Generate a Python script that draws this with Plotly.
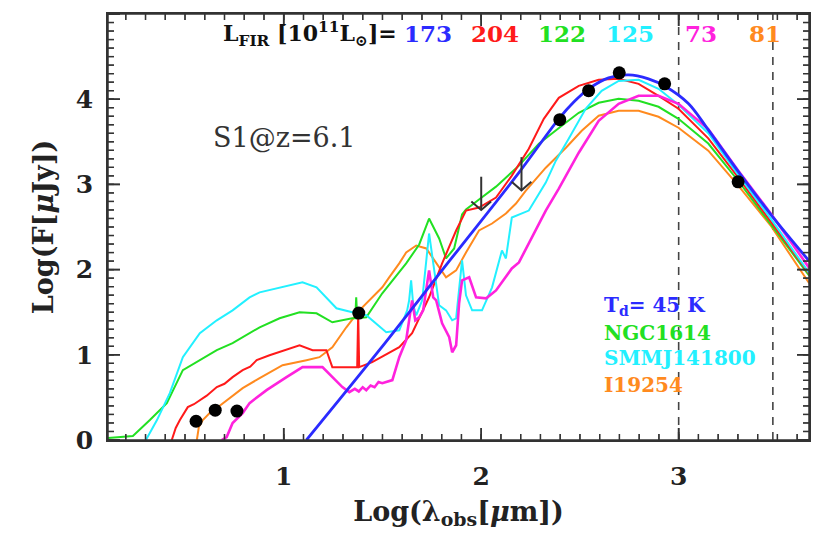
import numpy as np
import plotly.graph_objects as go

# ---------------- data (log lambda_obs [um], log F [uJy]) ----------------
phot_x = [0.556, 0.653, 0.763, 1.380, 2.398, 2.544, 2.699, 2.929, 3.301]
phot_y = [0.22, 0.35, 0.34, 1.49, 3.76, 4.10, 4.31, 4.18, 3.03]

ul_x = [2.000, 2.204]          # upper limits
ul_y = [3.09, 3.32]

vlines_x = [3.0, 3.477]        # dashed reference wavelengths

blue_x = [1.115, 1.484, 1.837, 2.191, 2.393, 2.470, 2.544, 2.645, 2.746, 2.847,
          2.933, 3.049, 3.150, 3.302, 3.469, 3.661]
blue_y = [0.0, 1.054, 2.096, 3.138, 3.770, 3.970, 4.122, 4.251, 4.286, 4.239,
          4.150, 3.950, 3.640, 3.150, 2.640, 2.100]

red_x = [0.433, 0.453, 0.474, 0.514, 0.545, 0.575, 0.610, 0.661, 0.700, 0.741,
         0.792, 0.830, 0.863, 0.928, 1.004, 1.080, 1.146, 1.216, 1.246, 1.362,
         1.372, 1.377, 1.382, 1.448, 1.534, 1.585, 1.650, 1.736, 1.802, 1.873,
         1.923, 1.989, 2.075, 2.155, 2.241, 2.317, 2.393, 2.494, 2.595, 2.696,
         2.797, 2.898, 2.999, 3.150, 3.302, 3.469, 3.661]
red_y = [0.0, 0.141, 0.234, 0.386, 0.420, 0.468, 0.520, 0.621, 0.660, 0.738,
         0.820, 0.860, 0.937, 0.995, 1.054, 1.112, 1.054, 1.054, 0.855, 0.855,
         0.855, 1.487, 0.855, 0.913, 1.019, 1.089, 1.253, 1.675, 2.073, 2.459,
         2.693, 2.728, 2.845, 3.103, 3.419, 3.770, 4.016, 4.157, 4.227, 4.239,
         4.180, 4.040, 3.888, 3.540, 3.080, 2.560, 1.950]

green_x = [0.110, 0.171, 0.236, 0.322, 0.408, 0.489, 0.575, 0.661, 0.741, 0.827,
           0.878, 0.979, 1.080, 1.166, 1.246, 1.347, 1.362, 1.367, 1.372, 1.418,
           1.499, 1.620, 1.686, 1.736, 1.787, 1.822, 1.863, 1.903, 1.923, 1.989,
           2.075, 2.191, 2.292, 2.408, 2.494, 2.595, 2.696, 2.797, 2.898, 2.999,
           3.150, 3.302, 3.469, 3.661]
green_y = [0.023, 0.035, 0.047, 0.234, 0.433, 0.820, 0.937, 1.054, 1.136, 1.253,
           1.323, 1.429, 1.499, 1.487, 1.382, 1.429, 1.429, 1.675, 1.429, 1.441,
           1.722, 2.073, 2.295, 2.599, 2.365, 2.131, 2.248, 2.646, 2.705, 2.822,
           2.974, 3.220, 3.478, 3.689, 3.841, 3.958, 4.005, 3.981, 3.911, 3.770,
           3.480, 3.040, 2.530, 1.930]

cyan_x = [0.302, 0.358, 0.423, 0.489, 0.575, 0.661, 0.741, 0.827, 0.878, 0.994,
          1.095, 1.166, 1.267, 1.347, 1.418, 1.519, 1.585, 1.625, 1.635, 1.645,
          1.656, 1.671, 1.701, 1.736, 1.762, 1.787, 1.822, 1.853, 1.873, 1.903,
          1.923, 1.954, 2.004, 2.055, 2.105, 2.125, 2.155, 2.241, 2.327, 2.378,
          2.443, 2.529, 2.610, 2.696, 2.797, 2.898, 2.999, 3.150, 3.302, 3.469,
          3.661]
cyan_y = [0.0, 0.234, 0.550, 0.972, 1.253, 1.405, 1.522, 1.674, 1.733, 1.792,
          1.850, 1.792, 1.546, 1.499, 1.464, 1.265, 1.288, 1.522, 1.639, 1.874,
          1.581, 1.464, 1.639, 2.424, 1.991, 1.581, 1.522, 1.405, 1.428, 2.108,
          1.698, 1.522, 1.522, 1.792, 2.225, 2.131, 2.611, 2.693, 3.021, 3.279,
          3.536, 3.888, 4.098, 4.215, 4.227, 4.122, 3.934, 3.600, 3.110, 2.590,
          1.960]

magenta_x = [0.686, 0.711, 0.741, 0.792, 0.827, 0.878, 0.913, 1.014, 1.095, 1.196,
             1.246, 1.297, 1.332, 1.360, 1.380, 1.400, 1.418, 1.440, 1.460, 1.480,
             1.499, 1.550, 1.585, 1.620, 1.650, 1.666, 1.686, 1.706, 1.736, 1.757,
             1.772, 1.802, 1.838, 1.853, 1.873, 1.888, 1.903, 1.939, 1.974, 2.025,
             2.075, 2.155, 2.191, 2.327, 2.393, 2.494, 2.595, 2.696, 2.797, 2.898,
             2.999, 3.150, 3.302, 3.469, 3.661]
magenta_y = [0.0, 0.035, 0.199, 0.316, 0.433, 0.527, 0.585, 0.738, 0.855, 0.855,
             0.738, 0.621, 0.562, 0.600, 0.570, 0.620, 0.585, 0.640, 0.620, 0.680,
             0.667, 0.703, 0.972, 1.171, 1.639, 1.405, 1.440, 1.522, 1.991, 1.674,
             1.639, 1.370, 1.206, 1.030, 1.112, 1.604, 1.874, 1.909, 1.674, 1.663,
             1.756, 2.014, 2.084, 2.693, 2.951, 3.372, 3.747, 3.946, 4.040, 4.040,
             3.946, 3.650, 3.160, 2.650, 2.020]

orange_x = [0.560, 0.570, 0.590, 0.625, 0.661, 0.711, 0.792, 0.878, 0.994, 1.115,
            1.181, 1.246, 1.317, 1.383, 1.448, 1.499, 1.534, 1.585, 1.620, 1.671,
            1.722, 1.772, 1.822, 1.873, 1.923, 1.989, 2.055, 2.125, 2.176, 2.226,
            2.327, 2.429, 2.509, 2.595, 2.696, 2.797, 2.898, 2.999, 3.150, 3.302,
            3.469, 3.661]
orange_y = [0.0, 0.152, 0.234, 0.316, 0.375, 0.468, 0.609, 0.726, 0.878, 0.937,
            0.972, 1.089, 1.323, 1.522, 1.674, 1.792, 1.909, 2.073, 2.201, 2.283,
            2.248, 2.084, 1.909, 1.991, 2.201, 2.459, 2.541, 2.658, 2.775, 2.927,
            3.196, 3.431, 3.630, 3.806, 3.864, 3.864, 3.794, 3.665, 3.396, 2.986,
            2.506, 1.840]

lfir_values = ["173", "204", "122", "125", "73", "81"]
lfir_colors = ["#2b2bff", "#ff1a1a", "#22e022", "#22f0ff", "#ff22dd", "#ff8a1e"]
lfir_x = [1.731, 2.070, 2.408, 2.756, 3.115, 3.438]

legend_labels = ["T<sub>d</sub>= 45 K", "NGC1614", "SMMJ141800", "I19254"]
legend_colors = ["#2b2bff", "#22e022", "#22f0ff", "#ff8a1e"]
legend_y = [1.57, 1.26, 0.96, 0.65]

# ---------------- axes setup ----------------
X_RANGE = [0.11, 3.66]
Y_RANGE = [0.0, 5.0]
W, H = 823, 535
M = dict(l=108, r=12, t=14, b=95)
FONT = "DejaVu Serif"
AX = "#333333"

px_x = (X_RANGE[1] - X_RANGE[0]) / (W - M["l"] - M["r"])
px_y = (Y_RANGE[1] - Y_RANGE[0]) / (H - M["t"] - M["b"])

fig = go.Figure()

for xv in vlines_x:
    fig.add_trace(go.Scatter(x=[xv, xv], y=Y_RANGE, mode="lines",
                             line=dict(color="#444444", width=1.6, dash="8px,7px"),
                             hoverinfo="skip", showlegend=False))

curves = [
    (orange_x, orange_y, "#ff8a1e", 2.0, "linear"),
    (green_x, green_y, "#22e022", 2.0, "linear"),
    (red_x, red_y, "#ff1a1a", 2.0, "linear"),
    (cyan_x, cyan_y, "#22f0ff", 2.0, "linear"),
    (magenta_x, magenta_y, "#ff22dd", 2.6, "linear"),
    (blue_x, blue_y, "#2b2bff", 2.8, "spline"),
]
for cx, cy, col, w, shp in curves:
    fig.add_trace(go.Scatter(x=cx, y=cy, mode="lines",
                             line=dict(color=col, width=w, shape=shp),
                             showlegend=False))

fig.add_trace(go.Scatter(x=phot_x, y=phot_y, mode="markers",
                         marker=dict(color="black", size=13),
                         showlegend=False))

ax_, ay_ = [], []
for xv, yv in zip(ul_x, ul_y):
    tip = yv - 0.39
    ax_ += [xv, xv, None, xv - 0.05, xv, xv + 0.05, None]
    ay_ += [yv, tip, None, tip + 0.1, tip, tip + 0.1, None]
fig.add_trace(go.Scatter(x=ax_, y=ay_, mode="lines",
                         line=dict(color="#333333", width=2),
                         showlegend=False))

# ---------------- inward tick marks on all four sides (axis furniture) ----------------
shapes = []

def add_ticks(step, len_px, width):
    xs, ys = [], []
    ly = len_px * px_y
    lx = len_px * px_x
    for v in np.arange(np.ceil(X_RANGE[0] / step) * step, X_RANGE[1], step):
        v = float(v)
        xs += [v, v, None, v, v, None]
        ys += [Y_RANGE[0], Y_RANGE[0] + ly, None, Y_RANGE[1], Y_RANGE[1] - ly, None]
        for y0, y1 in ((Y_RANGE[0], Y_RANGE[0] + ly), (Y_RANGE[1], Y_RANGE[1] - ly)):
            shapes.append(dict(type="line", xref="x", yref="y", x0=v, x1=v, y0=y0, y1=y1,
                               line=dict(color=AX, width=width), layer="above"))
    for v in np.arange(np.ceil(Y_RANGE[0] / step) * step, Y_RANGE[1] + 1e-9, step):
        v = float(v)
        xs += [X_RANGE[0], X_RANGE[0] + lx, None, X_RANGE[1], X_RANGE[1] - lx, None]
        ys += [v, v, None, v, v, None]
        for x0, x1 in ((X_RANGE[0], X_RANGE[0] + lx), (X_RANGE[1], X_RANGE[1] - lx)):
            shapes.append(dict(type="line", xref="x", yref="y", x0=x0, x1=x1, y0=v, y1=v,
                               line=dict(color=AX, width=width), layer="above"))
    fig.add_trace(go.Scatter(x=xs, y=ys, mode="lines", line=dict(color=AX, width=width),
                             hoverinfo="skip", showlegend=False))

add_ticks(0.1, 6, 1.3)
add_ticks(1.0, 12, 1.6)

# plot frame
shapes.append(dict(type="rect", xref="paper", yref="paper", x0=0, x1=1, y0=0, y1=1,
                   line=dict(color=AX, width=1.5), fillcolor="rgba(0,0,0,0)", layer="above"))

annos = []
annos.append(dict(x=1.585, y=4.77, xref="x", yref="y", xanchor="right", yanchor="middle",
                  text="<b>L<sub>FIR</sub> [10<sup>11</sup>L<sub>⊙</sub>]=</b>", showarrow=False,
                  font=dict(family=FONT, size=22, color="#111111")))
for v, c, xv in zip(lfir_values, lfir_colors, lfir_x):
    annos.append(dict(x=xv, y=4.77, xref="x", yref="y", xanchor="center", yanchor="middle",
                      text="<b>" + v + "</b>", showarrow=False,
                      font=dict(family=FONT, size=23, color=c)))
annos.append(dict(x=1.0, y=3.55, xref="x", yref="y", xanchor="center", yanchor="middle",
                  text="S1@z=6.1", showarrow=False,
                  font=dict(family=FONT, size=27, color="#333333")))
for t, c, yv in zip(legend_labels, legend_colors, legend_y):
    annos.append(dict(x=2.61, y=yv, xref="x", yref="y", xanchor="left", yanchor="middle",
                      text="<b>" + t + "</b>", showarrow=False,
                      font=dict(family=FONT, size=20, color=c)))

fig.update_layout(
    width=W, height=H,
    margin=M,
    paper_bgcolor="white", plot_bgcolor="white",
    showlegend=False,
    annotations=annos,
    shapes=shapes,
)

fig.update_xaxes(range=X_RANGE, tickmode="linear", tick0=0, dtick=1,
                 showline=True, mirror=True, linecolor=AX, linewidth=1.5,
                 ticks="", showgrid=False, zeroline=False,
                 ticklabelstandoff=13,
                 tickprefix="<b>", ticksuffix="</b>",
                 tickfont=dict(family=FONT, size=25, color="#222222"),
                 title=dict(text="<b>Log(λ<sub>obs</sub>[<i>μ</i>m])</b>", standoff=12,
                            font=dict(family=FONT, size=27, color="#222222")))
fig.update_yaxes(range=Y_RANGE, tickmode="linear", tick0=0, dtick=1,
                 showline=True, mirror=True, linecolor=AX, linewidth=1.5,
                 ticks="", showgrid=False, zeroline=False,
                 ticklabelstandoff=8,
                 tickprefix="<b>", ticksuffix="</b>",
                 tickfont=dict(family=FONT, size=25, color="#222222"),
                 title=dict(text="<b>Log(F[<i>μ</i>Jy])</b>", standoff=14,
                            font=dict(family=FONT, size=27, color="#222222")))

fig.write_html("out.html", config={"displayModeBar": False})
